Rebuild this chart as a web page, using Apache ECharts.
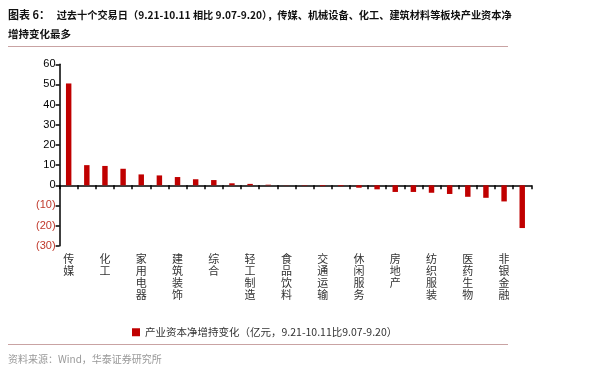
<!DOCTYPE html>
<html>
<head>
<meta charset="utf-8">
<script src="https://cdn.jsdelivr.net/npm/echarts@6/dist/echarts.min.js"></script>
<style>
html,body{margin:0;padding:0;background:#fff;}
#c{width:600px;height:366px;}
</style>
</head>
<body>
<div id="c"></div>
<script>
var categories = ['传媒','机械设备','化工','建筑材料','家用电器','电气设备','建筑装饰','有色金属','综合','汽车','轻工制造','公用事业','食品饮料','钢铁','交通运输','采掘','休闲服务','通信','房地产','商业贸易','纺织服装','计算机','医药生物','电子','非银金融','农林牧渔'];
var values = [50.5,10.0,9.6,8.2,5.4,4.9,4.1,3.0,2.6,1.0,0.7,0.3,0.1,-0.2,-0.4,-0.4,-1.2,-2.0,-3.3,-3.3,-3.7,-4.3,-5.7,-6.2,-8.0,-21.2];
var seriesName = '产业资本净增持变化（亿元，9.21-10.11比9.07-9.20）';
var titleHead = '图表 6：';
var titleLine1 = '过去十个交易日（9.21-10.11 相比 9.07-9.20），传媒、机械设备、化工、建筑材料等板块产业资本净';
var titleLine2 = '增持变化最多';
var sourceText = '资料来源：Wind，华泰证券研究所';

var chart = echarts.init(document.getElementById('c'), null, {renderer:'canvas'});
var red = '#C00000';
var cjk = '"Noto Sans CJK SC", sans-serif';
chart.setOption({
  animation:false,
  backgroundColor:'#fff',
  grid:{left:59.6, right:68.7, top:64.3, bottom:120.2, containLabel:false},
  legend:{
    left:127, top:322, itemWidth:8, itemHeight:8, itemGap:5,
    icon:'rect',
    textStyle:{fontSize:10.5, color:'#333', fontFamily:cjk},
    data:[seriesName]
  },
  xAxis:[{
    type:'category', data:categories, position:'bottom',
    axisLine:{onZero:true, lineStyle:{color:'#000', width:1.5}},
    axisTick:{show:true, interval:0, inside:false, length:4, lineStyle:{color:'#000', width:1.5}},
    axisLabel:{show:false}
  },{
    type:'category', data:categories, position:'bottom',
    axisLine:{show:false, onZero:false}, axisTick:{show:false},
    axisLabel:{
      interval:1, margin:7, fontSize:11, lineHeight:12, color:'#333',
      fontFamily:cjk,
      formatter:function(v){return v.split('').join('\n');}
    }
  }],
  yAxis:{
    type:'value', min:-30, max:60, interval:10,
    axisLine:{show:true, lineStyle:{color:'#000', width:1.5}},
    axisTick:{show:true, length:4, lineStyle:{color:'#000', width:1.5}},
    splitLine:{show:false},
    axisLabel:{
      margin:4, fontSize:11, fontFamily:'Arial, "Liberation Sans", sans-serif',
      formatter:function(v){ return v<0 ? '{n|('+(-v)+')}' : '{p|'+v+'}'; },
      rich:{n:{color:'#C0392B', fontSize:11, fontFamily:'Arial, "Liberation Sans", sans-serif'}, p:{color:'#000', fontSize:11, fontFamily:'Arial, "Liberation Sans", sans-serif'}}
    }
  },
  series:[{
    name:seriesName, type:'bar', data:values, barWidth:'30%',
    itemStyle:{color:red}
  }],
  graphic:[
    {type:'text', left:8, top:9, style:{text:'{h|'+titleHead+'}  {b|'+titleLine1+'}', rich:{h:{fontSize:11, fontWeight:'bold', fill:'#111', fontFamily:cjk}, b:{fontSize:10.2, fontWeight:'bold', fill:'#111', fontFamily:cjk}}}},
    {type:'text', left:8, top:29, style:{text:titleLine2, fontSize:10.5, fontWeight:'bold', fill:'#111', fontFamily:cjk}},
    {type:'line', shape:{x1:8, y1:46.5, x2:508, y2:46.5}, style:{stroke:'#C9A3A3', lineWidth:1}},
    {type:'line', shape:{x1:8, y1:344.5, x2:508, y2:344.5}, style:{stroke:'#C9A3A3', lineWidth:1}},
    {type:'text', left:8, top:354, style:{text:sourceText, fontSize:10, fill:'#999', fontFamily:cjk}}
  ]
});
</script>
</body>
</html>
